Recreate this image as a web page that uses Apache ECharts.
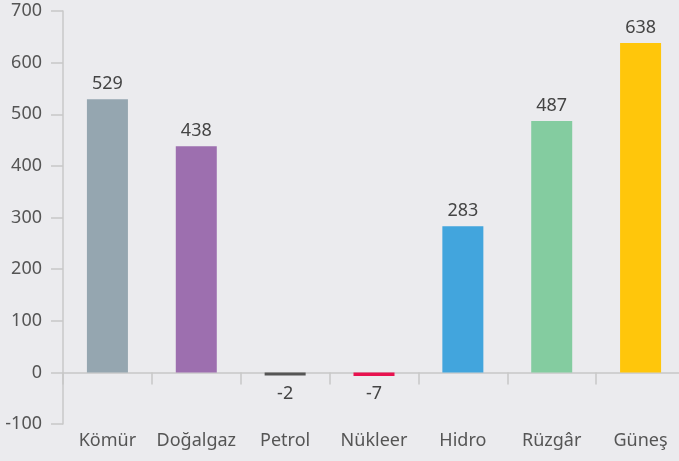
<!DOCTYPE html>
<html><head><meta charset="utf-8">
<script src="https://cdn.jsdelivr.net/npm/echarts@6/dist/echarts.min.js"></script>
<style>html,body{margin:0;padding:0;background:#ebebee;}#c{width:679px;height:461px;}</style>
</head><body><div id="c"></div>
<script>
const categories = ["Kömür", "Doğalgaz", "Petrol", "Nükleer", "Hidro", "Rüzgâr", "Güneş"];
const values = [529, 438, -2, -7, 283, 487, 638];
const colors = ["#95a6b0", "#9d6faf", "#555555", "#e8124f", "#42a5dd", "#84cca0", "#ffc60b"];
const yTicks = { min: -100, max: 700, interval: 100 };

const FONT = "'Noto Sans', sans-serif";
const chart = echarts.init(document.getElementById('c'));
chart.setOption({
  backgroundColor: '#ebebee',
  animation: false,
  grid: { left: 63, width: 622, top: 11, bottom: 37, containLabel: false, outerBoundsMode: 'none' },
  xAxis: [{
    type: 'category', data: categories,
    axisLine: { onZero: true, lineStyle: { color: '#c8c8c8', width: 1.5 } },
    axisTick: { show: true, length: 12, lineStyle: { color: '#c8c8c8', width: 1.5 } },
    axisLabel: { show: false }
  }, {
    type: 'category', data: categories, position: 'bottom',
    axisLine: { show: false, onZero: false }, axisTick: { show: false },
    axisLabel: { interval: 0, margin: 8, color: '#555', fontSize: 18, fontFamily: FONT }
  }],
  yAxis: {
    type: 'value', min: yTicks.min, max: yTicks.max, interval: yTicks.interval,
    splitLine: { show: false },
    axisLine: { show: true, lineStyle: { color: '#c8c8c8', width: 1.5 } },
    axisTick: { show: true, length: 12, lineStyle: { color: '#c8c8c8', width: 1.5 } },
    axisLabel: { margin: 21, color: '#555', fontSize: 18, fontFamily: FONT }
  },
  series: [{
    type: 'bar', xAxisIndex: 0, barWidth: 41, barMinHeight: 3,
    data: values.map((v, i) => ({
      value: v,
      itemStyle: { color: colors[i] },
      label: v < 0 ? { position: 'bottom', distance: 9 } : { position: 'top', distance: 6 }
    })),
    label: { show: true, color: '#444', fontSize: 18, fontFamily: FONT }
  }]
});
</script></body></html>
